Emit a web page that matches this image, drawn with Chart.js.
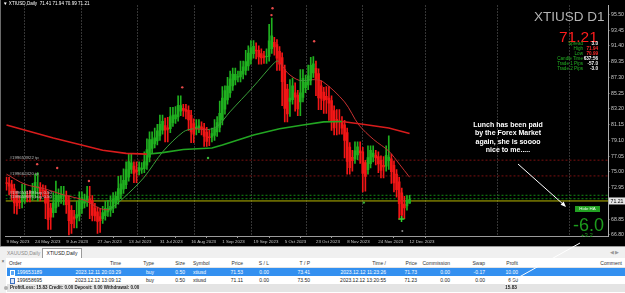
<!DOCTYPE html>
<html>
<head>
<meta charset="utf-8">
<script src="https://cdn.jsdelivr.net/npm/chart.js@4.4.0/dist/chart.umd.min.js"></script>
<style>
  body { margin: 0; width: 625px; height: 293px; overflow: hidden; background: #f0f0f0;
         font-family: "Liberation Sans", Arial, sans-serif; position: relative; }
  #wrap { position: absolute; left: 0; top: 0; width: 625px; height: 246px; background: #000; }
  #wrap canvas { display: block; }
  .ov { position: absolute; white-space: nowrap; line-height: 1; }
  .info { position: absolute; font-size: 4.6px; line-height: 5px; white-space: nowrap; }
  #tabs { position: absolute; left: 0; top: 246px; width: 625px; height: 12px; background: #f0f0f0;
          border-top: 1px solid #9a9a9a; box-sizing: border-box; font-size: 5px; }
  #term { position: absolute; left: 0; top: 258px; width: 625px; height: 35px; background: #fff; font-size: 5px; }
  .row { position: absolute; left: 7px; width: 618px; height: 8px; }
  .cell { position: absolute; top: 1.5px; white-space: nowrap; line-height: 1; }
</style>
</head>
<body>
<div id="wrap"><canvas id="chart" width="625" height="246"></canvas></div>

<script>
// Heiken Ashi candles, one per trading day, 9 May 2023 .. 12 Dec 2023
const opens = [
  73.6,73.53,73.34,72.79,71.88,71.23,71.11,71.48,71.92,71.85,
  71.85,72.15,72.89,72.99,72.62,72.58,71.76,70.27,69.69,70.31,
  71.13,71.54,71.84,71.88,71.31,69.98,69.13,68.99,69.22,70.21,
  70.93,71.14,71.50,71.26,70.30,69.79,69.17,68.90,69.31,69.78,
  70.00,70.25,70.88,71.34,72.09,72.76,73.34,74.32,75.32,75.74,
  75.27,75.11,75.33,75.41,75.88,76.90,78.05,78.63,79.04,79.69,
  80.44,81.02,80.72,80.62,81.41,81.89,82.16,82.91,83.26,83.13,
  82.99,82.37,81.28,80.58,80.70,80.85,80.69,80.16,79.56,79.50,
  79.74,80.18,80.79,81.71,83.15,84.36,85.26,86.19,86.95,87.32,
  87.36,87.71,88.20,88.77,89.62,90.38,90.86,90.80,90.38,90.10,
  89.98,90.01,91.02,91.86,91.56,90.68,89.86,88.30,85.78,84.17,
  84.38,85.28,85.00,84.10,84.70,85.94,86.30,86.90,87.87,88.46,
  87.79,86.20,85.39,84.84,84.61,84.27,82.97,81.85,81.65,81.57,
  81.12,80.11,78.23,76.88,76.67,77.19,77.73,77.59,76.19,75.29,
  76.08,76.94,77.19,77.00,76.51,75.86,75.75,76.44,76.68,75.85,
  74.71,73.69,72.27,70.82,70.56,70.92
];
const highs = [
  74.3,74.3,73.9,73.4,72.5,71.9,73.4,73.4,72.5,72.6,
  73.5,74.7,74.9,73.6,73.3,73.2,72.4,70.9,72.3,73.8,
  72.8,73.1,73.1,72.5,71.9,70.6,70.0,71.2,72.4,72.4,
  72.1,73.1,73.1,71.9,70.9,70.4,70.2,70.5,71.2,71.3,
  71.8,72.3,72.4,74.4,74.5,75.4,76.3,77.3,77.4,76.3,
  76.3,76.3,76.2,77.6,79.3,80.2,80.2,80.7,81.2,82.4,
  82.4,82.0,82.1,83.4,83.4,83.5,84.9,84.9,83.8,83.8,
  83.6,83.0,81.9,81.8,81.8,81.5,81.3,80.8,80.4,80.7,
  81.8,82.2,84.2,86.1,86.2,87.3,88.1,88.5,88.5,88.1,
  89.4,89.4,90.8,91.4,92.1,92.1,91.8,91.4,91.0,90.7,
  91.0,94.2,95.0,92.5,92.2,91.3,90.5,88.9,86.4,87.0,
  87.2,86.6,85.6,88.3,88.3,87.6,88.9,89.9,90.0,89.4,
  88.4,86.8,86.0,86.1,86.1,84.9,83.6,83.1,83.1,82.2,
  81.7,80.7,78.8,77.8,78.9,78.9,78.9,78.2,76.5,78.4,
  78.4,78.4,77.8,77.6,77.1,77.0,78.4,79.7,77.3,76.4,
  75.3,74.3,72.9,71.8,71.9,71.94
];
const lows = [
  72.6,72.0,71.3,69.6,69.5,70.2,70.3,70.9,71.1,71.1,
  71.3,71.6,71.2,71.2,71.8,68.9,67.5,67.5,69.1,69.7,
  70.5,70.9,70.7,69.6,66.8,67.0,67.7,67.7,68.6,69.6,
  70.3,70.5,68.9,68.6,68.6,67.0,67.1,68.3,68.7,69.2,
  69.2,69.7,70.3,70.8,71.5,72.2,72.8,73.8,74.8,73.6,
  73.6,74.6,74.8,74.9,75.3,76.3,77.5,78.1,78.5,79.1,
  79.9,78.9,78.9,80.1,80.9,81.3,81.6,82.3,82.2,81.9,
  80.4,78.8,78.8,79.8,80.1,79.8,78.3,78.3,78.4,78.9,
  79.1,79.6,80.2,81.1,82.5,83.8,84.7,85.6,86.3,86.7,
  86.7,87.1,87.6,88.2,89.0,89.8,89.7,89.0,89.0,89.1,
  89.1,89.4,90.4,90.2,88.2,88.2,83.6,81.5,81.5,82.2,
  83.8,82.9,82.3,82.3,84.1,85.3,85.7,86.3,87.3,84.9,
  83.1,83.1,82.6,82.6,81.7,80.4,79.8,79.8,79.9,79.9,
  76.8,74.7,74.7,75.1,76.1,76.6,76.1,72.4,72.5,74.7,
  75.5,76.3,75.9,74.9,74.2,74.2,75.1,75.3,73.5,72.4,
  71.7,68.8,68.8,68.9,70.0,70.9
];
const closes = [
  73.45,73.14,72.23,70.97,70.58,70.99,71.85,72.35,71.78,71.84,
  72.45,73.63,73.09,72.25,72.54,70.93,68.78,69.10,70.92,71.95,
  71.95,72.14,71.91,70.73,68.65,68.27,68.85,69.45,71.20,71.64,
  71.35,71.86,71.02,69.34,69.27,68.54,68.63,69.71,70.25,70.22,
  70.50,71.50,71.80,72.83,73.43,73.91,75.29,76.32,76.16,74.79,
  74.95,75.55,75.49,76.35,77.91,79.19,79.21,79.44,80.34,81.19,
  81.59,80.43,80.52,82.19,82.38,82.43,83.66,83.61,83.01,82.85,
  81.75,80.19,79.89,80.82,80.99,80.54,79.62,78.97,79.44,79.97,
  80.63,81.40,82.63,84.59,85.58,86.15,87.12,87.71,87.69,87.40,
  88.07,88.68,89.34,90.47,91.13,91.34,90.74,89.96,89.83,89.86,
  90.04,92.04,92.70,91.25,89.81,89.03,86.73,83.27,82.55,84.59,
  86.18,84.73,83.20,85.30,87.18,86.66,87.49,88.85,89.06,87.12,
  84.62,84.57,84.30,84.38,83.93,81.67,80.73,81.45,81.49,80.67,
  79.10,76.35,75.54,76.46,77.72,78.26,77.46,74.78,74.40,76.86,
  77.80,77.44,76.80,76.02,75.20,75.64,77.14,76.91,75.02,73.56,
  72.68,70.85,69.36,70.29,71.28,71.39
];

// slow moving average, read at a few bars
const slowMaBars   = [0, 18, 37, 46, 54, 60, 68, 79, 83, 95, 105, 114, 122, 129, 137, 147, 155];
const slowMaValues = [81.1, 79.4, 77.8, 77.4, 77.3, 77.5, 77.9, 78.1, 78.5, 79.8, 80.6, 81.1, 81.5, 81.55, 81.2, 80.7, 80.0];
// fast moving average
const fastMaBars   = [0, 7, 14.5, 22, 30, 35.5, 39.3, 45, 52.7, 60.3, 68, 71.8, 77.5, 81.3, 85.9, 94.7, 103, 104.6, 108, 112.6, 117.6, 121.4, 130, 135.5, 141.2, 147, 151.1, 155];
const fastMaValues = [74.7, 73.4, 72.8, 72.0, 71.3, 70.3, 70.1, 71.6, 74.2, 77.7, 80.2, 80.6, 80.5, 81.0, 82.8, 86.0, 89.2, 89.4, 87.9, 86.9, 87.0, 86.8, 84.1, 81.1, 79.2, 77.7, 76.0, 74.3];

// fractal / signal markers
const upMarkBars   = [11.8, 19.5, 31.7, 67.6, 102.3, 101.9, 118.3];
const upMarkValues = [76.0, 75.5, 73.8, 86.0, 96.3, 95.4, 92.0];
const downMarkBars   = [77.5, 137.4];
const downMarkValues = [76.8, 71.0];
const buySignalBars   = [151.9];
const buySignalValues = [68.85];
const greyMarkBars   = [152.2];
const greyMarkValues = [67.3];

// horizontal levels
const levelValues = [76.52, 74.47, 71.95, 71.5];
const levelNames  = ['#199653922 tp', '#199662420 tp', '#199653189 buy 0.50', '#199658695 buy 0.50'];
const levelKinds  = ['tp', 'tp', 'buy', 'buy'];
const bidPrice = 71.21;

// axes
const priceTicks = [95.50, 93.45, 91.40, 89.35, 87.30, 85.25, 83.20, 81.15, 79.10, 77.05, 75.00, 72.95, 68.85, 66.80];
const labelBars  = [0, 11, 23, 35, 47, 59, 71, 83, 95, 107, 119, 131, 143, 155];
const labelTexts = ['9 May 2023', '24 May 2023', '9 Jun 2023', '27 Jun 2023', '13 Jul 2023', '31 Jul 2023',
  '16 Aug 2023', '1 Sep 2023', '19 Sep 2023', '5 Oct 2023', '23 Oct 2023', '8 Nov 2023', '24 Nov 2023', '12 Dec 2023'];
const gridBars = [17.8, 39.7, 60.7, 83.6, 104.6, 126.3, 147.7, 174.9, 202.7];

// terminal history
const tableHeaders = ['Order', 'Time', 'Type', 'Size', 'Symbol', 'Price', 'S / L', 'T / P', 'Time  /', 'Price', 'Commission', 'Swap', 'Profit', 'Comment'];
const tableRows = [
  ['199653189', '2023.12.11 20:03:29', 'buy', '0.50', 'xtiusd', '71.53', '0.00', '73.41', '2023.12.12 11:23:26', '71.73', '0.00', '-0.17', '10.00', ''],
  ['199658695', '2023.12.12 13:09:12', 'buy', '0.50', 'xtiusd', '71.11', '0.00', '73.50', '2023.12.12 13:20:55', '71.23', '0.00', '0.00', '6.00', '']
];
const summaryText = 'Profit/Loss: 15.83  Credit: 0.00  Deposit: 0.00  Withdrawal: 0.00';
const summaryTotal = '15.83';
const infoRows = [
  ['Spread', '3.0', '#ffffff'],
  ['High', '71.94', '#ff2a2a'],
  ['Low', '70.99', '#ff2a2a'],
  ['Candle Time', '637:56', '#ffffff'],
  ['Trade 1 Pips', '-57.0', '#ffffff'],
  ['Trade 2 Pips', '-3.0', '#ffffff']
];
</script>

<div class="ov" style="left:3px;top:2px;font-size:4.6px;color:#fff">&#9660; XTIUSD,Daily&nbsp; 71.41 71.94 70.99 71.21</div>
<div class="ov" style="left:534px;top:10px;font-size:13.5px;color:#b4b4b4">XTIUSD D1</div>
<div class="ov" style="left:559px;top:29px;font-size:15.5px;color:#ff1c1c">71.21</div>
<div id="info"></div>
<div class="ov" style="left:443px;top:121px;width:130px;text-align:center;font-size:7px;line-height:8.4px;font-weight:bold;color:#fff">Lunch has been paid<br>by the Forex Market<br>again, she is soooo<br>nice to me.....</div>
<div class="ov" style="left:575px;top:205.5px;width:25px;height:6px;background:#22a022;color:#e8ffe8;font-size:4.4px;line-height:6px;text-align:center">Hide HA</div>
<div class="ov" style="left:573px;top:216px;font-size:18px;color:#1c9c1c">-6.0</div>
<div class="ov" style="left:581px;top:232px;font-size:6px;color:#1c9c1c">+3.2</div>
<div class="ov" style="left:0;top:0;width:1px;height:246px;background:#6a6a6a"></div>

<div id="tabs">
  <div class="ov" style="left:7px;top:3.5px;color:#8a8a8a">XAUUSD,Daily</div>
  <div class="ov" style="left:42px;top:1px;width:40px;height:10px;background:#fff;border:1px solid #9a9a9a;border-bottom:none;box-sizing:border-box;text-align:center;line-height:9px;color:#222">XTIUSD,Daily</div>
  <div class="ov" style="left:610px;top:3.5px;color:#9a9a9a;font-size:4.5px">&#9664; &#9654;</div>
</div>

<div id="term">
  <div class="ov" style="left:0;top:0;width:6px;height:35px;background:#f0f0f0"></div>
  <div class="ov" style="left:1.5px;top:1px;font-size:5px;color:#444">&times;</div>
  <div class="row" id="hdr" style="top:1px;background:#fff;color:#333;border-bottom:1px solid #e4e4e4"></div>
  <div class="row" id="r0" style="top:10px;background:#3390f0;color:#fff"></div>
  <div class="row" id="r1" style="top:18px;background:#fff;color:#222"></div>
  <div class="row" id="sum" style="top:26px;background:#e4e4e4;color:#222;font-weight:bold"></div>
</div>

<svg width="625" height="293" style="position:absolute;left:0;top:0;pointer-events:none">
  <line x1="518" y1="164" x2="564" y2="205" stroke="#fff" stroke-width="1"/>
  <polygon points="566,207 560.6,204.7 563.6,201.4" fill="#fff"/>
  <line x1="505" y1="285" x2="580" y2="243" stroke="#fff" stroke-width="1"/>
</svg>

<script>
// info panel on the chart
const info = document.getElementById('info');
infoRows.forEach((r, i) => {
  const top = 41 + i * 5;
  info.insertAdjacentHTML('beforeend',
    `<div class="info" style="right:42px;top:${top}px;color:#22b022">${r[0]}</div>` +
    `<div class="info" style="right:27px;top:${top}px;color:${r[2]};font-weight:bold">${r[1]}</div>`);
});

// terminal table
const cols = [
  { a: 'l', x: 2 }, { a: 'r', x: 121 }, { a: 'r', x: 154 }, { a: 'r', x: 185 }, { a: 'l', x: 193 },
  { a: 'r', x: 243 }, { a: 'r', x: 269 }, { a: 'r', x: 310 }, { a: 'r', x: 386 }, { a: 'r', x: 417 },
  { a: 'r', x: 450 }, { a: 'r', x: 485 }, { a: 'r', x: 518 }, { a: 'r', x: 622 }
];
function fillRow(id, values, firstX) {
  const el = document.getElementById(id);
  values.forEach((v, i) => {
    if (!v) return;
    const c = cols[i];
    let x = c.x;
    if (i === 0) x = firstX;
    const pos = c.a === 'l' ? `left:${x - 7}px` : `right:${625 - x}px`;
    el.insertAdjacentHTML('beforeend', `<div class="cell" style="${pos}">${v}</div>`);
  });
}
fillRow('hdr', tableHeaders, 9);
fillRow('r0', tableRows[0], 17);
fillRow('r1', tableRows[1], 17);
['r0', 'r1'].forEach((id, i) => {
  document.getElementById(id).insertAdjacentHTML('afterbegin',
    `<div class="cell" style="left:3px;top:1.5px;width:3px;height:4px;border:0.6px solid ${i ? '#3a6fc0' : '#fff'};background:${i ? '#dfe9f8' : '#5aa6f5'}"></div>`);
});
document.getElementById('sum').insertAdjacentHTML('beforeend',
  `<div class="cell" style="left:-3px;top:1.5px;width:4px;height:4px;border-radius:50%;background:#b0b0b0"></div>` +
  `<div class="cell" style="left:3px;font-size:4.5px">${summaryText}</div>` +
  `<div class="cell" style="right:${625 - 517}px;font-size:4.8px">${summaryTotal}</div>`);

// chart
const GREEN = '#1fb01f', RED = '#f21616';
const barColor = c => (closes[c.dataIndex] >= opens[c.dataIndex] ? GREEN : RED);
const wickData = highs.map((h, i) => ({ x: i, y: [lows[i], h] }));
const bodyData = opens.map((o, i) => ({ x: i, y: [o, closes[i]] }));
const pts = (xs, ys) => xs.map((x, i) => ({ x: x, y: ys[i] }));
const X_MIN = -0.38, X_MAX = 231.3;

const levelDatasets = levelValues.map((v, i) => ({
  type: 'line',
  data: [{ x: X_MIN, y: v }, { x: X_MAX, y: v }],
  borderColor: levelKinds[i] === 'tp' ? '#7a1010' : '#138a13',
  borderWidth: 1,
  borderDash: [2, 2],
  pointRadius: 0,
  order: 5
}));

const levelLabels = {
  id: 'levelLabels',
  afterDatasetsDraw(chart) {
    const { ctx, chartArea, scales } = chart;
    ctx.save();
    ctx.font = '4.4px "Liberation Sans"';
    ctx.textBaseline = 'alphabetic';
    levelNames.forEach((t, i) => {
      ctx.fillStyle = levelKinds[i] === 'tp' ? '#b8b8b8' : '#c8c8c8';
      ctx.fillText(t, chartArea.left + 4, scales.y.getPixelForValue(levelValues[i]) - 1.2);
    });
    const py = scales.y.getPixelForValue(bidPrice);
    ctx.fillStyle = '#e6e6e6';
    ctx.fillRect(chartArea.right + 1, py - 3.5, 16, 7);
    ctx.fillStyle = '#000';
    ctx.font = '5.2px "Liberation Sans"';
    ctx.textBaseline = 'middle';
    ctx.fillText(bidPrice.toFixed(2), chartArea.right + 2.5, py + 0.3);
    ctx.restore();
  }
};

new Chart(document.getElementById('chart'), {
  type: 'bar',
  data: {
    datasets: [
      ...levelDatasets,
      {
        type: 'line',
        data: [{ x: X_MIN, y: bidPrice }, { x: X_MAX, y: bidPrice }],
        borderColor: '#b8b800', borderWidth: 1, pointRadius: 0, order: 4
      },
      {
        type: 'bar', data: wickData, grouped: false, barThickness: 1,
        backgroundColor: barColor, order: 3
      },
      {
        type: 'bar', data: bodyData, grouped: false, barThickness: 2,
        backgroundColor: barColor, order: 2
      },
      {
        type: 'line', data: pts(slowMaBars, slowMaValues), borderWidth: 1.6, pointRadius: 0,
        borderColor: RED,
        segment: { borderColor: c => (c.p1.parsed.y < c.p0.parsed.y ? '#d81c1c' : '#22a622') },
        order: 1
      },
      {
        type: 'line', data: pts(fastMaBars, fastMaValues), borderWidth: 1, pointRadius: 0,
        borderColor: RED, tension: 0.3,
        segment: { borderColor: c => (c.p1.parsed.y < c.p0.parsed.y ? '#c83030' : '#3aa03a') },
        order: 1
      },
      {
        type: 'line', data: pts(upMarkBars, upMarkValues), showLine: false,
        pointRadius: 1.2, pointBackgroundColor: '#e84a4a', pointBorderWidth: 0, order: 0
      },
      {
        type: 'line', data: pts(downMarkBars, downMarkValues), showLine: false,
        pointRadius: 1.2, pointBackgroundColor: '#3ab03a', pointBorderWidth: 0, order: 0
      },
      {
        type: 'line', data: pts(buySignalBars, buySignalValues), showLine: false,
        pointStyle: 'cross', pointRadius: 3, pointBorderColor: '#2ed22e', pointBorderWidth: 1.5, order: 0
      },
      {
        type: 'line', data: pts(greyMarkBars, greyMarkValues), showLine: false,
        pointRadius: 1, pointBackgroundColor: '#8a8a8a', pointBorderWidth: 0, order: 0
      }
    ]
  },
  options: {
    responsive: false,
    animation: false,
    events: [],
    layout: { padding: { left: 1, top: 2, right: 0, bottom: 0 } },
    plugins: { legend: { display: false }, tooltip: { enabled: false } },
    scales: {
      x: {
        type: 'linear', min: X_MIN, max: X_MAX, offset: false,
        afterBuildTicks: ax => { ax.ticks = labelBars.map(v => ({ value: v })); },
        afterFit: ax => { ax.height = 10; },
        ticks: {
          color: '#c8c8c8', font: { size: 4.4, family: 'Liberation Sans' }, align: 'start',
          padding: 1, maxRotation: 0, autoSkip: false,
          callback: (v, i) => labelTexts[i]
        },
        grid: { drawOnChartArea: false, drawTicks: true, tickLength: 2, color: '#9a9a9a' },
        border: { display: true, color: '#9a9a9a' }
      },
      xg: {
        type: 'linear', position: 'bottom', min: X_MIN, max: X_MAX, offset: false,
        afterBuildTicks: ax => { ax.ticks = gridBars.map(v => ({ value: v })); },
        afterFit: ax => { ax.height = 0; },
        ticks: { display: false },
        grid: { color: '#6a6a6a', drawTicks: false, lineWidth: 1 },
        border: { display: false, dash: [1, 2] }
      },
      y: {
        position: 'right', min: 66.65, max: 96.65,
        afterBuildTicks: ax => { ax.ticks = priceTicks.map(v => ({ value: v })); },
        afterFit: ax => { ax.width = 17; },
        ticks: {
          color: '#c8c8c8', font: { size: 5.2, family: 'Liberation Sans' }, padding: 1.5,
          autoSkip: false, callback: v => v.toFixed(2)
        },
        grid: { drawOnChartArea: false, drawTicks: true, tickLength: 1.5, color: '#9a9a9a' },
        border: { display: true, color: '#b0b0b0' }
      }
    }
  },
  plugins: [levelLabels]
});
</script>
</body>
</html>
